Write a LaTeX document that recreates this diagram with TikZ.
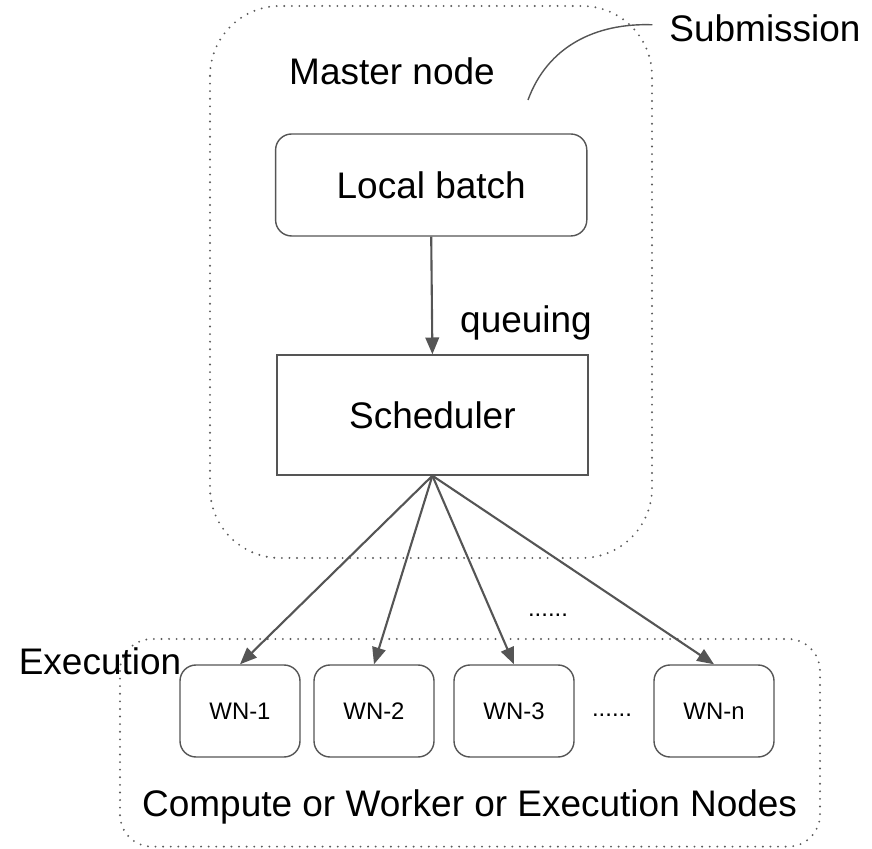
\documentclass[tikz,border=0pt]{standalone}
\usepackage{fontspec}
\setmainfont{Liberation Sans}
\usetikzlibrary{arrows.meta}
\definecolor{linegray}{RGB}{85,85,85}
\definecolor{dotgray}{RGB}{90,90,90}
\tikzset{
  bigtext/.style={font=\fontsize{26.3}{31}\selectfont},
  smalltext/.style={font=\fontsize{17}{20}\selectfont},
  jobbox/.style={draw=linegray,line width=1pt,minimum width=7.78cm,bigtext},
  wnbox/.style={draw=linegray,line width=1pt,rounded corners=0.4cm,minimum width=3cm,minimum height=2.3cm,smalltext},
  arr/.style={draw=linegray,line width=1.5pt,-{Triangle[length=0.42cm,width=0.34cm]}},
  groupbox/.style={draw=dotgray,line width=1.5pt,line cap=round,dash pattern=on 0pt off 5.4pt},
}
\begin{document}
\begin{tikzpicture}
  \useasboundingbox (0,0) rectangle (21.8,21.225);
  % dotted groups
  \draw[groupbox,rounded corners=1.75cm] (5.25,21.075) rectangle (16.3,7.275);
  \draw[groupbox,rounded corners=0.8cm] (3.0,5.25) rectangle (20.5,0.06);
  \node[bigtext,anchor=base] (master) at (9.8,19.1) {Master node};
  \node[bigtext,anchor=base] (subm) at (19.125,20.175) {Submission};
  \coordinate (submfoot) at (13.2,18.725);
  \draw[linegray,line width=1pt] (submfoot) to [out=70,in=178] ([xshift=-0.3cm,yshift=0.1cm]subm.west);
  % master node
  \node[jobbox,rounded corners=0.4cm,minimum height=2.55cm] (batch) at (10.78,16.6) {Local batch};
  \node[jobbox,minimum height=3cm] (sched) at (10.81,10.85) {Scheduler};
  \node[bigtext,anchor=base] (queue) at (13.15,12.9) {queuing};
  \draw[arr] (batch.south) -- (sched.north);
  % execution nodes
  \node[bigtext,anchor=base] (exec) at (2.5,4.35) {Execution};
  \node[wnbox] (wn1) at (6.0,3.45) {WN-1};
  \node[wnbox] (wn2) at (9.35,3.45) {WN-2};
  \node[wnbox] (wn3) at (12.85,3.45) {WN-3};
  \node[wnbox] (wnn) at (17.85,3.45) {WN-n};
  \node[smalltext] (dotsa) at (13.7,5.85) {......};
  \node[smalltext] (dotsb) at (15.3,3.35) {......};
  \node[bigtext,anchor=base] (compute) at (11.74,0.8) {Compute or Worker or Execution Nodes};
  \foreach \w in {wn1,wn2,wn3,wnn}
    \draw[arr] (sched.south) -- (\w.north);
\end{tikzpicture}
\end{document}
